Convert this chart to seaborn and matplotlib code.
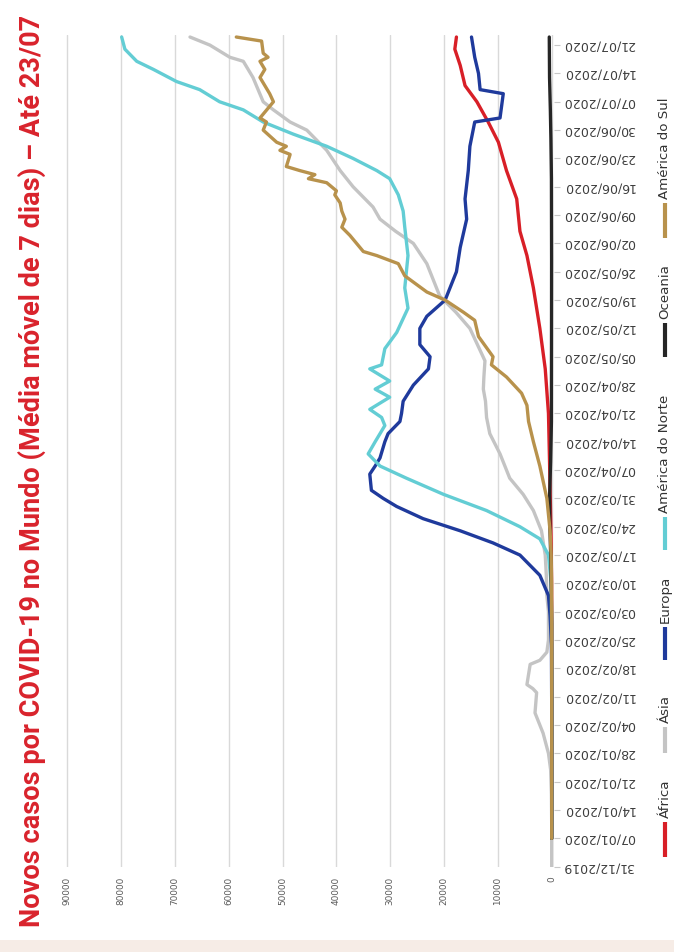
import numpy as np
import pandas as pd
import matplotlib
matplotlib.use("Agg")
import matplotlib.pyplot as plt
import seaborn as sns
from matplotlib.lines import Line2D
from matplotlib.patches import Rectangle

# ---------------- data (day index counted from 31/12/2019) ----------------
TITLE = "Novos casos por COVID-19 no Mundo (Média móvel de 7 dias) – Até 23/07"

date_tick_days = [0, 7, 14, 21, 28, 35, 42, 49, 56, 63, 70, 77, 84, 91, 98,
                  105, 112, 119, 126, 133, 140, 147, 154, 161, 168, 175, 182,
                  189, 196, 203]
date_tick_labels = ["31/12/2019", "07/01/2020", "14/01/2020", "21/01/2020",
                    "28/01/2020", "04/02/2020", "11/02/2020", "18/02/2020",
                    "25/02/2020", "03/03/2020", "10/03/2020", "17/03/2020",
                    "24/03/2020", "31/03/2020", "07/04/2020", "14/04/2020",
                    "21/04/2020", "28/04/2020", "05/05/2020", "12/05/2020",
                    "19/05/2020", "26/05/2020", "02/06/2020", "09/06/2020",
                    "16/06/2020", "23/06/2020", "30/06/2020", "07/07/2020",
                    "14/07/2020", "21/07/2020"]
value_ticks = [0, 10000, 20000, 30000, 40000, 50000, 60000, 70000, 80000, 90000]
value_tick_labels = ["0", "10000", "20000", "30000", "40000", "50000",
                     "60000", "70000", "80000", "90000"]

regions = ["África", "Ásia", "Europa", "América do Norte", "Oceania", "América do Sul"]
colors = ["#d81f27", "#c4c4c4", "#1f3a9c", "#63cdd4", "#262626", "#b8924c"]

africa_days = [7, 40, 60, 70, 80, 90, 100, 112, 123, 133, 143, 151, 157, 165,
               172, 179, 184, 189, 193, 198, 202, 205]
africa_vals = [0, 0, 5, 20, 100, 250, 400, 600, 1200, 2200, 3400, 4600, 5900,
               6500, 8400, 9900, 11800, 13900, 16100, 17000, 18000, 17700]

asia_days = [0, 10, 18, 22, 24, 28, 33, 38, 43, 44, 45, 50, 51, 53, 56, 63, 67,
             72, 77, 83, 88, 92, 96, 102, 107, 111, 115, 118, 121, 125, 129,
             133, 137, 141, 145, 149, 154, 157, 160, 163, 168, 172, 177, 182,
             184, 187, 189, 195, 199, 200, 203, 205]
asia_vals = [0, 0, 50, 150, 200, 600, 1600, 3100, 2800, 3500, 4600, 4000, 2200,
             900, 600, 600, 900, 1000, 1200, 1900, 3400, 5300, 7800, 9600,
             11500, 12100, 12300, 12700, 12600, 12400, 13800, 15200, 17800,
             20800, 22000, 23200, 25700, 29000, 31900, 33200, 36900, 39300,
             41800, 45500, 48600, 51700, 53600, 55500, 57300, 59800, 63500,
             67200]

europe_days = [7, 40, 55, 62, 67, 72, 77, 80, 83, 86, 89, 91, 93, 97, 99, 101,
               105, 107, 110, 112, 115, 119, 123, 126, 129, 133, 136, 140, 147,
               153, 160, 165, 172, 178, 184, 185, 191, 192, 196, 200, 205]
europe_vals = [0, 0, 50, 300, 600, 2200, 5900, 10900, 17000, 23900, 28800,
               31300, 33500, 33800, 32800, 31900, 31000, 30400, 28200, 27900,
               27600, 25700, 22900, 22600, 24500, 24500, 23200, 19800, 17700,
               17000, 15800, 16100, 15500, 15200, 14300, 9600, 9000, 13300,
               13600, 14300, 14900]

namerica_days = [7, 50, 60, 70, 77, 81, 84, 88, 92, 96, 99, 102, 105, 109, 111,
                 113, 116, 118, 120, 123, 124, 128, 132, 138, 143, 151, 158,
                 162, 166, 170, 172, 175, 178, 181, 184, 187, 189, 192, 194,
                 197, 199, 202, 205]
namerica_vals = [0, 0, 20, 100, 600, 2200, 5900, 12100, 20100, 27000, 31900,
                 34100, 32800, 31000, 31600, 33800, 30100, 32800, 30100, 33800,
                 31600, 31000, 28800, 26700, 27300, 26700, 27300, 27600, 28500,
                 30100, 32500, 36900, 41800, 48000, 53600, 57300, 61700, 65400,
                 69700, 74000, 77100, 79300, 79900]

oceania_days = [7, 60, 75, 85, 92, 100, 110, 150, 170, 180, 187, 195, 205]
oceania_vals = [0, 0, 150, 350, 380, 200, 50, 20, 50, 150, 250, 400, 450]

samerica_days = [7, 60, 70, 77, 83, 91, 99, 105, 110, 114, 117, 121, 124, 126,
                 131, 135, 137, 140, 142, 146, 149, 151, 152, 156, 158, 160,
                 162, 164, 166, 167, 169, 170, 171, 172, 173, 176, 177, 178,
                 179, 182, 184, 185, 189, 191, 193, 195, 197, 199, 200, 201,
                 204, 205]
samerica_vals = [0, 0, 20, 100, 300, 900, 2200, 3400, 4300, 4600, 5600, 8400,
                 11200, 10900, 13600, 14300, 16400, 19800, 23200, 27300, 28500,
                 32500, 35000, 37500, 39000, 38400, 39000, 39300, 40300, 40000,
                 41800, 45200, 44000, 46800, 49300, 48600, 50500, 49300, 51100,
                 53600, 53000, 54200, 51700, 52400, 53300, 54200, 53300, 54200,
                 52700, 53600, 53900, 58600]

series_days = [africa_days, asia_days, europe_days, namerica_days, oceania_days, samerica_days]
series_vals = [africa_vals, asia_vals, europe_vals, namerica_vals, oceania_vals, samerica_vals]

frames = []
for name, d, v in zip(regions, series_days, series_vals):
    frames.append(pd.DataFrame({"region": name, "day": d, "cases": v}))
df = pd.concat(frames, ignore_index=True)

# ---------------- figure ----------------
W, H = 674, 952
sns.set_style("white")
plt.rcParams["font.family"] = ["DejaVu Sans"]
fig = plt.figure(figsize=(W / 100, H / 100), dpi=100)
fig.patch.set_facecolor("white")

def fx(px):
    return px / W

def fy(py):
    return 1 - py / H

ax_left, ax_right = 65.15, 553.85
ax_top, ax_bottom = 35.0, 866.7
ax = fig.add_axes([fx(ax_left), fy(ax_bottom), fx(ax_right - ax_left), (ax_bottom - ax_top) / H])

sns.lineplot(data=df, x="cases", y="day", hue="region", hue_order=regions,
             palette=dict(zip(regions, colors)), estimator=None, sort=False,
             orient="y", linewidth=2.4, legend=False, ax=ax,
             solid_joinstyle="round", solid_capstyle="round")

ax.set_xlim(90400, -400)
ax.set_ylim(0, 205.5)
ax.set_xticks(value_ticks)
ax.set_xticklabels(value_tick_labels)
ax.set_yticks(date_tick_days)
ax.set_yticklabels(date_tick_labels)
ax.yaxis.tick_right()
ax.set_xlabel("")
ax.set_ylabel("")
for s in ax.spines.values():
    s.set_visible(False)
ax.grid(axis="x", color="#d9d9d9", linewidth=1.0)
ax.set_axisbelow(True)
ax.tick_params(axis="x", length=0, pad=7, labelsize=6.4, labelcolor="#5a5a5a",
               labelrotation=90)
ax.tick_params(axis="y", right=True, left=False, length=4, width=0.8,
               color="#c8c8c8", pad=2.5, labelsize=9, labelcolor="#3c3c3c",
               labelrotation=180)
for lab in ax.get_yticklabels():
    lab.set_va("center")

# title
title = fig.text(fx(32), fy(471), TITLE, rotation=90, ha="center", va="center",
                 color="#d9232c", fontweight="bold", family=["Roboto", "DejaVu Sans"],
                 fontsize=18)
fig.canvas.draw()
bb = title.get_window_extent()
title.set_fontsize(18 * 912 / bb.height)

# legend (rotated, drawn manually)
leg_x = 665
handle_spans = [(822, 857), (727, 753), (627, 660), (517, 550), (323, 357), (203, 238)]
for name, col, (y0, y1) in zip(regions, colors, handle_spans):
    fig.add_artist(Line2D([fx(leg_x), fx(leg_x)], [fy(y0), fy(y1)], color=col,
                          linewidth=3.0, solid_capstyle="butt"))
    fig.text(fx(leg_x), fy(y0 - 4), name, rotation=90, ha="center", va="bottom",
             color="#333333", fontsize=9.6)

# beige strip at the bottom
fig.add_artist(Rectangle((0, 0), 1, 12 / H, transform=fig.transFigure,
                         facecolor="#f6ece6", edgecolor="none"))

fig.savefig("out.png", dpi=100)
